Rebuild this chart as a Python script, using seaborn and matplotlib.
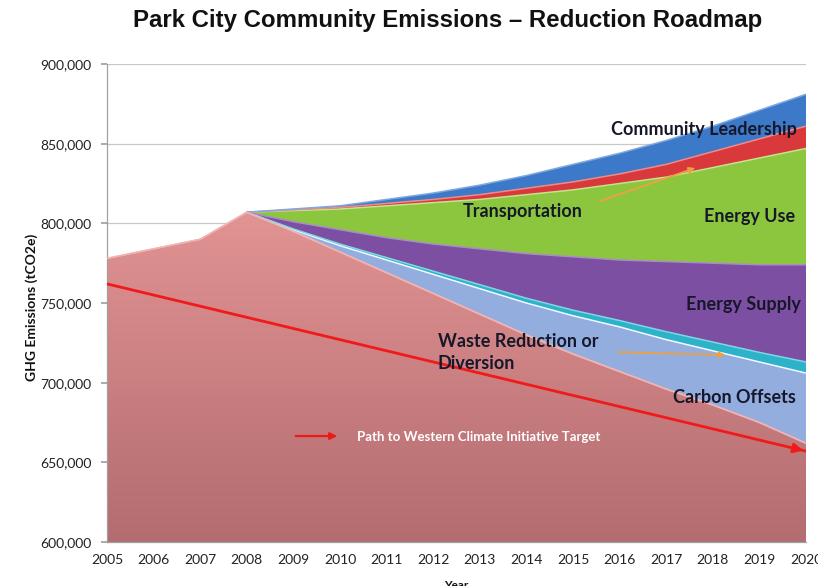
import numpy as np
import matplotlib
matplotlib.use("Agg")
import matplotlib.pyplot as plt
import seaborn as sns
import pandas as pd
from matplotlib.ticker import FuncFormatter, MultipleLocator
from matplotlib.colors import LinearSegmentedColormap

# ---- data (tCO2e) -------------------------------------------------------
years = list(range(2005, 2021))
nan = float("nan")

# emissions path that remains after all reduction wedges
baseline = [778000, 784000, 790000, 807000, 795000, 782000, 769000, 756000,
            743000, 730000, 718000, 707000, 696000, 686000, 675000, 662000]
# reduction wedges stacked on top of it (thickness of each band)
carbon_offsets = [nan, nan, nan, 0, 1000, 4000, 8000, 12000, 16000, 20000,
                  24000, 28000, 31000, 34000, 38000, 44000]
waste_diversion = [nan, nan, nan, 0, 500, 1000, 1500, 2000, 2500, 3000,
                   3500, 4000, 5000, 5500, 6000, 7000]
energy_supply = [nan, nan, nan, 0, 4500, 9000, 12500, 17000, 22500, 28000,
                 33500, 38000, 44000, 49500, 55000, 61000]
energy_use = [nan, nan, nan, 0, 7000, 13000, 20000, 26000, 31000, 37000,
              42000, 48000, 53000, 60000, 67000, 73000]
transportation = [nan, nan, nan, 0, 500, 1000, 1500, 2000, 3000, 4000,
                  5000, 6000, 8000, 10000, 12000, 14000]
community_leadership = [nan, nan, nan, 0, 500, 1000, 2500, 4000, 6000, 8000,
                        11000, 13000, 15000, 16000, 18000, 20000]

# Western Climate Initiative target path
target_years = [2005, 2020]
target_values = [762000, 657000]

band_labels = ["Carbon Offsets", "Waste Reduction or\nDiversion", "Energy Supply",
               "Energy Use", "Transportation", "Community Leadership"]
title = "Park City Community Emissions \u2013 Reduction Roadmap"

# ---- style --------------------------------------------------------------
sns.set_theme(style="white")
plt.rcParams["font.family"] = ["Lato", "DejaVu Sans"]

fig = plt.figure(figsize=(8.18, 5.86), dpi=100)
ax = fig.add_axes([107 / 818, 1 - 542 / 586, 699 / 818, 478 / 586])

df = pd.DataFrame({
    "year": years, "baseline": baseline, "offsets": carbon_offsets,
    "waste": waste_diversion, "supply": energy_supply, "use": energy_use,
    "transport": transportation, "leadership": community_leadership,
})

fill_colors = ["#D98A8A", "#93ADDF", "#2DB3C9", "#7D4FA2", "#8CC63E",
               "#D9393B", "#3C79C9"]
edge_colors = ["#F0B4B4", "#F4F8FF", "#7FD6E2", "#A98BC6", "#C4E38E",
               "#F08A8A", "#7FA8E0"]
cols = ["baseline", "offsets", "waste", "supply", "use", "transport", "leadership"]

x = df["year"].to_numpy(dtype=float)
bottom = np.zeros(len(x))
polys = []
for col, fc, ec in zip(cols, fill_colors, edge_colors):
    vals = df[col].to_numpy(dtype=float)
    top = bottom + vals
    poly = ax.fill_between(x, bottom, top, facecolor=fc, edgecolor="none",
                           linewidth=0, zorder=2)
    ax.plot(x, top, color=ec, lw=1.1, zorder=3)
    polys.append(poly)
    bottom = np.where(np.isnan(top), bottom, top)

# soft vertical shading inside the remaining-emissions area
pink_cmap = LinearSegmentedColormap.from_list("pink", ["#B36C70", "#E39494"])
grad = np.linspace(0, 1, 256).reshape(-1, 1)
im = ax.imshow(grad, cmap=pink_cmap, origin="lower", aspect="auto",
               extent=[2005, 2020, 600000, 810000], zorder=2.5)
im.set_clip_path(polys[0].get_paths()[0], transform=ax.transData)
ax.plot(x, df["baseline"], color="#F0B4B4", lw=1.1, zorder=3)

# target line with arrowhead
tdf = pd.DataFrame({"year": target_years, "value": target_values})
sns.lineplot(data=tdf, x="year", y="value", ax=ax, color="#F01A1A", lw=2.0,
             zorder=5)
ax.annotate("", xy=(target_years[-1], target_values[-1]),
            xytext=(target_years[-1] - 0.3,
                    target_values[-1] + (target_values[0] - target_values[-1]) * 0.3 / 15),
            arrowprops=dict(arrowstyle="-|>", color="#F01A1A", lw=2,
                            mutation_scale=14), zorder=6, annotation_clip=False)

# ---- axes ---------------------------------------------------------------
ax.set_xlim(2005, 2020)
ax.set_ylim(600000, 900000)
ax.xaxis.set_major_locator(MultipleLocator(1))
ax.yaxis.set_major_locator(MultipleLocator(50000))
ax.yaxis.set_major_formatter(FuncFormatter(lambda v, p: f"{int(v):,}"))
ax.grid(axis="y", color="#C8C8C8", lw=0.9, zorder=0)
ax.set_axisbelow(True)
for side in ["top", "right"]:
    ax.spines[side].set_visible(False)
for side in ["left", "bottom"]:
    ax.spines[side].set_color("#A0A0A0")
    ax.spines[side].set_linewidth(0.9)
ax.tick_params(axis="y", length=4, color="#A0A0A0", pad=7, labelsize=10,
               labelcolor="#222222", left=True)
ax.tick_params(axis="x", length=0, pad=9, labelsize=10, labelcolor="#222222")

ax.set_ylabel("GHG Emissions (tCO2e)", fontsize=10, fontweight="bold",
              color="#111111")
ax.yaxis.set_label_coords(-0.099, 0.49)
ax.set_xlabel("Year", fontsize=8.5, fontweight="bold", color="#111111")
ax.xaxis.set_label_coords(0.5, -0.08)

fig.text(0.5 * (133 + 762) / 818, 1 - 20 / 586, title, ha="center", va="center",
         fontsize=17.3, fontweight="bold", family="Liberation Sans",
         color="#111111")

# ---- band labels ----------------------------------------------------------
lab_kw = dict(fontsize=13, fontweight="bold", color="#16182A", zorder=8)
ax.text(2020 - 0.2, 859000, band_labels[5], ha="right", va="center", **lab_kw)
ax.text(2012.64, 807500, band_labels[4], ha="left", va="center", **lab_kw)
ax.text(2020 - 0.23, 804000, band_labels[3], ha="right", va="center", **lab_kw)
ax.text(2020 - 0.1, 749300, band_labels[2], ha="right", va="center", **lab_kw)
ax.text(2012.1, 718700, band_labels[1], ha="left", va="center",
        linespacing=1.35, **lab_kw)
ax.text(2020 - 0.22, 690500, band_labels[0], ha="right", va="center", **lab_kw)

ax.text(2010.36, 666000, "Path to Western Climate Initiative Target",
        ha="left", va="center", fontsize=9.5, fontweight="bold",
        color="white", zorder=8)
ax.annotate("", xy=(2010.0, 666500), xytext=(2008.99, 666500),
            arrowprops=dict(arrowstyle="-|>", color="#E81A1A", lw=1.6,
                            mutation_scale=10), zorder=8)

# pointer arrows to the thin bands
orange = dict(arrowstyle="-|>", color="#F0A040", lw=1.3, mutation_scale=9)
ax.annotate("", xy=(2017.68, 835300), xytext=(2015.52, 813400),
            arrowprops=orange, zorder=8)
ax.annotate("", xy=(2018.33, 717300), xytext=(2015.9, 719200),
            arrowprops=orange, zorder=8)

fig.savefig("out.png", dpi=100, facecolor="white")
